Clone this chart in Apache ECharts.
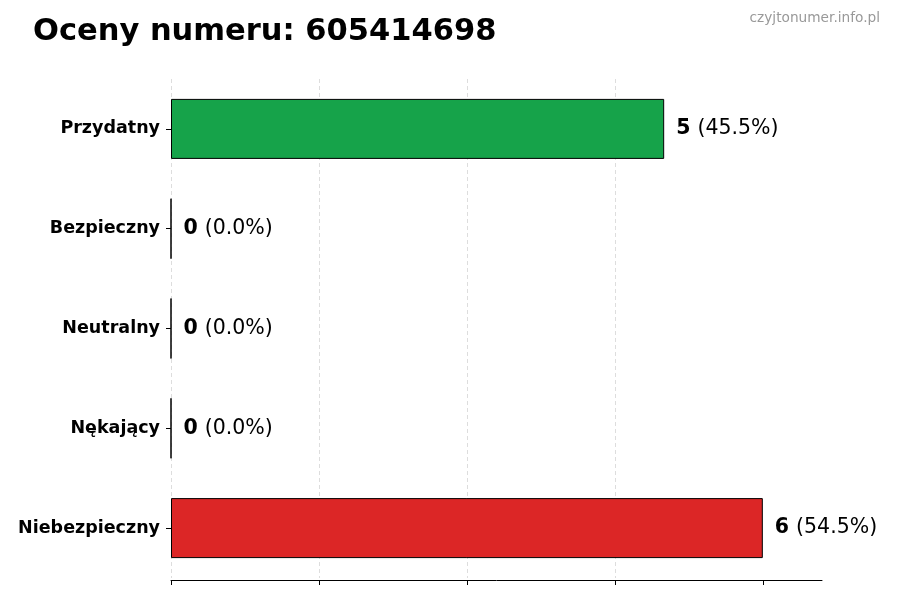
<!DOCTYPE html>
<html>
<head>
<meta charset="utf-8">
<script src="https://cdn.jsdelivr.net/npm/echarts@6/dist/echarts.min.js"></script>
<style>
  html, body { margin: 0; padding: 0; background: #fff; }
  #chart { width: 900px; height: 600px; }
</style>
</head>
<body>
<div id="chart"></div>
<script>
// dane wykresu
var categories = ['Przydatny', 'Bezpieczny', 'Neutralny', 'Nękający', 'Niebezpieczny'];
var counts = [5, 0, 0, 0, 6];
var barColors = ['#16a34a', '#16a34a', '#6b7280', '#dc2626', '#dc2626'];
var xTicks = [0, 1.5, 3, 4.5, 6];

var total = counts.reduce(function (a, b) { return a + b; }, 0);

var chart = echarts.init(document.getElementById('chart'));

var option = {
  backgroundColor: '#fff',
  animation: false,
  title: [{
    text: 'Oceny numeru: 605414698',
    left: 28,
    top: 12,
    textStyle: { fontFamily: 'DejaVu Sans', fontSize: 30.5, fontWeight: 'bold', color: '#000' }
  }, {
    text: 'czyjtonumer.info.pl',
    right: 15,
    top: 6,
    textStyle: { fontFamily: 'DejaVu Sans', fontSize: 13.7, fontWeight: 'normal', color: '#999' }
  }],
  grid: { left: 171, right: 78, top: 79, bottom: 22, containLabel: false },
  xAxis: {
    type: 'value',
    min: 0,
    max: 6.6,
    interval: 1.5,
    offset: 2,
    axisLine: { show: true, lineStyle: { color: '#000', width: 1 } },
    axisTick: { show: true, length: 5, lineStyle: { color: '#000' }, customValues: xTicks },
    axisLabel: { show: false },
    splitLine: {
      show: true,
      showMaxLine: false,
      lineStyle: { type: [4, 3], color: '#d4d4d4', width: 0.8 }
    }
  },
  yAxis: {
    type: 'category',
    inverse: true,
    data: categories,
    axisLine: { show: false },
    axisTick: { show: true, length: 5, alignWithLabel: true, lineStyle: { color: '#000' } },
    axisLabel: {
      margin: 11,
      fontFamily: 'DejaVu Sans',
      fontSize: 17.5,
      fontWeight: 'bold',
      color: '#000'
    }
  },
  series: [{
    type: 'bar',
    barWidth: 60,
    data: counts.map(function (v, i) {
      return { value: v, itemStyle: { color: barColors[i] } };
    }),
    itemStyle: { borderColor: '#000', borderWidth: 1 },
    label: {
      show: true,
      position: 'right',
      distance: 12,
      formatter: function (p) {
        var pct = total ? (p.value / total * 100).toFixed(1) : '0.0';
        return '{b|' + p.value + '}{s| }{n|(' + pct + '%)}';
      },
      rich: {
        b: { fontFamily: 'DejaVu Sans', fontSize: 20.5, fontWeight: 'bold', color: '#000' },
        s: { fontFamily: 'DejaVu Sans', fontSize: 20.5, color: '#000', width: 7 },
        n: { fontFamily: 'DejaVu Sans', fontSize: 20.5, color: '#000' }
      }
    }
  }]
};

chart.setOption(option);
</script>
</body>
</html>
